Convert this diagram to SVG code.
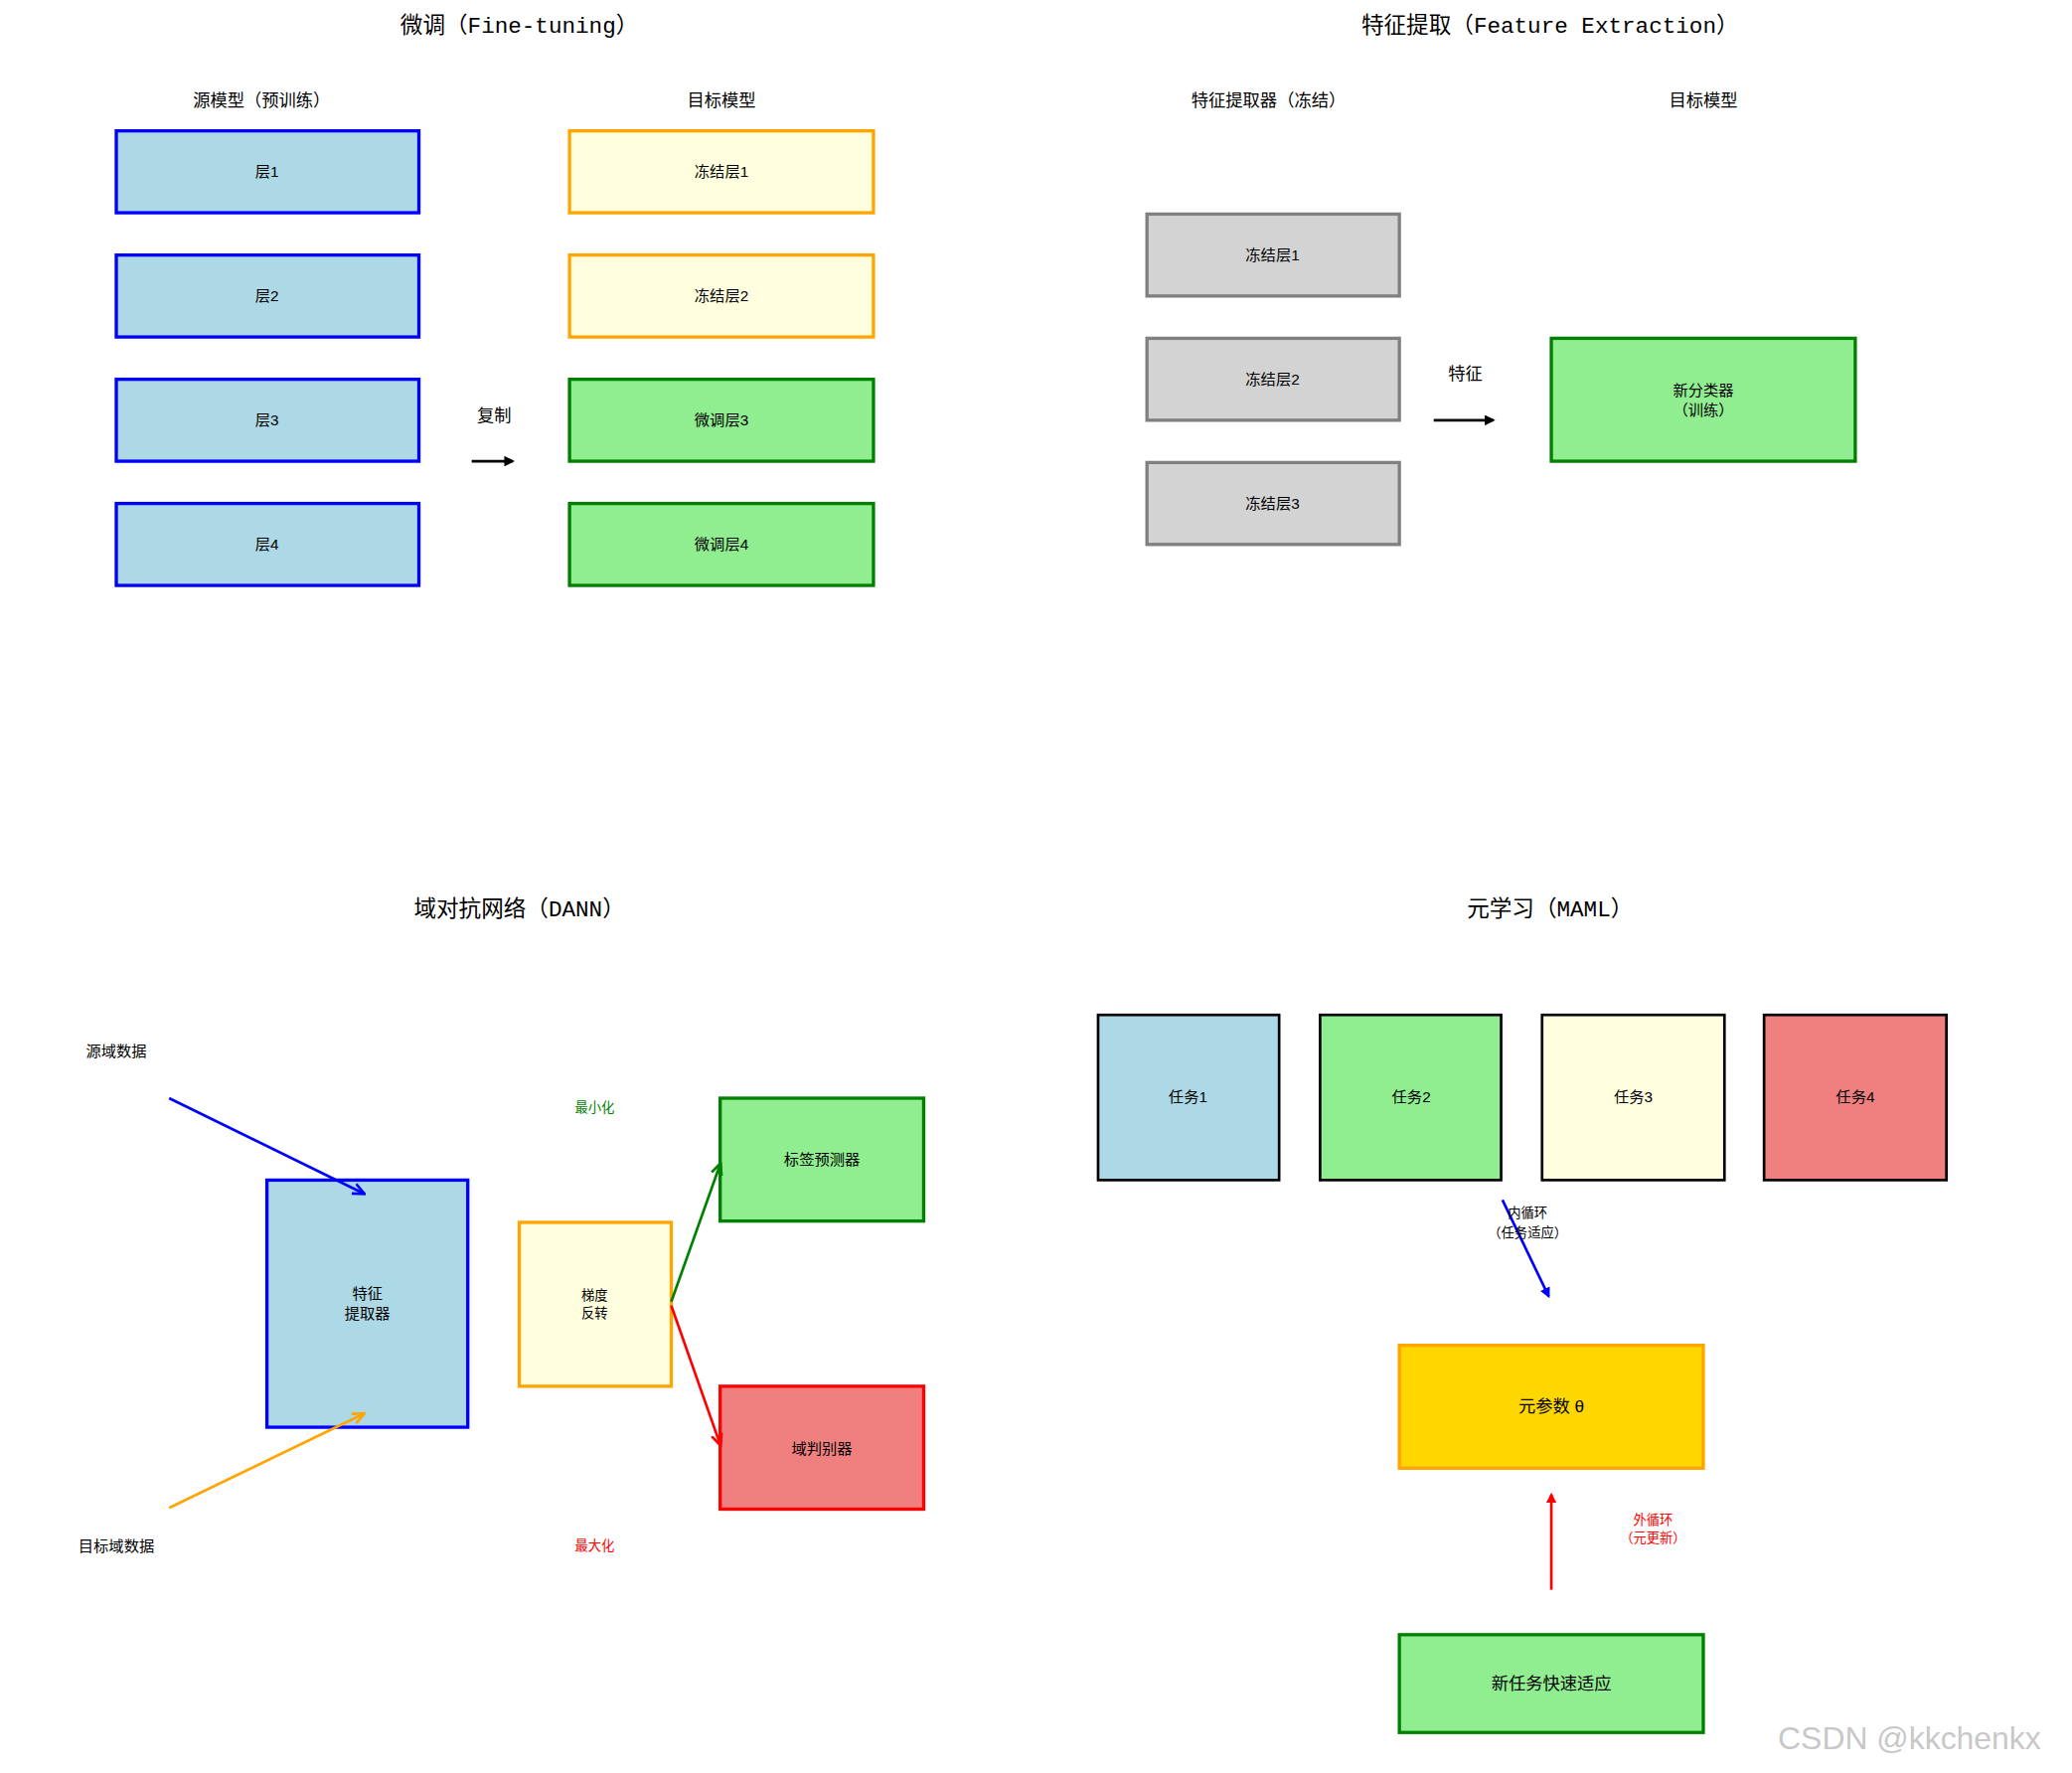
<svg xmlns="http://www.w3.org/2000/svg" width="2085" height="1784" viewBox="0 0 2085 1784">
<defs>
<style>
text{font-family:"Liberation Sans","Noto Sans CJK SC",sans-serif;text-anchor:middle;dominant-baseline:central;fill:#000}
.t{font-size:17px}
.h{font-size:13px}
.b{font-size:11.5px}
.s{font-size:10px}
rect{stroke-width:2.5}
.blue{fill:#add8e6;stroke:#0000ff}
.fro{fill:#ffffe0;stroke:#ffa500}
.grn{fill:#90ee90;stroke:#008000}
.gry{fill:#d3d3d3;stroke:#808080}
.task{stroke:#000;stroke-width:2}
line{stroke-width:2}
</style>
<marker id="ak" viewBox="0 0 10 10" refX="8" refY="5" markerWidth="4" markerHeight="4" orient="auto"><path d="M0,0L10,5L0,10z" fill="#000"/></marker>
<marker id="ab" viewBox="0 0 10 10" refX="8" refY="5" markerWidth="5" markerHeight="5" orient="auto"><path d="M0,1L9,5L0,9" fill="none" stroke="#00f" stroke-width="2"/></marker>
<marker id="ao" viewBox="0 0 10 10" refX="8" refY="5" markerWidth="5" markerHeight="5" orient="auto"><path d="M0,1L9,5L0,9" fill="none" stroke="#ffa500" stroke-width="2"/></marker>
<marker id="ag" viewBox="0 0 10 10" refX="8" refY="5" markerWidth="5" markerHeight="5" orient="auto"><path d="M0,1L9,5L0,9" fill="none" stroke="#008000" stroke-width="2"/></marker>
<marker id="ar" viewBox="0 0 10 10" refX="8" refY="5" markerWidth="5" markerHeight="5" orient="auto"><path d="M0,1L9,5L0,9" fill="none" stroke="#f00" stroke-width="2"/></marker>
<marker id="ab2" viewBox="0 0 10 10" refX="8" refY="5" markerWidth="4" markerHeight="4" orient="auto"><path d="M0,0L10,5L0,10z" fill="#00f"/></marker>
<marker id="ar2" viewBox="0 0 10 10" refX="8" refY="5" markerWidth="4" markerHeight="4" orient="auto"><path d="M0,0L10,5L0,10z" fill="#f00"/></marker>
</defs>
<rect width="2085" height="1784" fill="#fff" stroke="none"/>
<g transform="scale(1.3297)">
<g id="titles">
<text class="t" x="393" y="20" style="font-family:'Liberation Mono','Noto Sans CJK SC',monospace">微调（Fine-tuning）</text>
<text class="t" x="1173" y="20" style="font-family:'Liberation Mono','Noto Sans CJK SC',monospace">特征提取（Feature Extraction）</text>
<text class="t" x="393" y="689" style="font-family:'Liberation Mono','Noto Sans CJK SC',monospace">域对抗网络（DANN）</text>
<text class="t" x="1173" y="689" style="font-family:'Liberation Mono','Noto Sans CJK SC',monospace">元学习（MAML）</text>
<text class="h" x="198" y="76">源模型（预训练）</text>
<text class="h" x="546" y="76">目标模型</text>
<text class="h" x="960" y="76">特征提取器（冻结）</text>
<text class="h" x="1289" y="76">目标模型</text>
</g>
<g id="ft-src">
<g id="src1"><rect class="blue" x="88" y="99" width="229" height="62"/><text class="b" x="202" y="130">层1</text></g>
<g id="src2"><rect class="blue" x="88" y="193" width="229" height="62"/><text class="b" x="202" y="224">层2</text></g>
<g id="src3"><rect class="blue" x="88" y="287" width="229" height="62"/><text class="b" x="202" y="318">层3</text></g>
<g id="src4"><rect class="blue" x="88" y="381" width="229" height="62"/><text class="b" x="202" y="412">层4</text></g>
</g>
<g id="ft-tgt">
<g id="tgt1"><rect class="fro" x="431" y="99" width="230" height="62"/><text class="b" x="546" y="130">冻结层1</text></g>
<g id="tgt2"><rect class="fro" x="431" y="193" width="230" height="62"/><text class="b" x="546" y="224">冻结层2</text></g>
<g id="tgt3"><rect class="grn" x="431" y="287" width="230" height="62"/><text class="b" x="546" y="318">微调层3</text></g>
<g id="tgt4"><rect class="grn" x="431" y="381" width="230" height="62"/><text class="b" x="546" y="412">微调层4</text></g>
</g>
<g id="fe">
<g id="fz1"><rect class="gry" x="868" y="162" width="191" height="62"/><text class="b" x="963" y="193">冻结层1</text></g>
<g id="fz2"><rect class="gry" x="868" y="256" width="191" height="62"/><text class="b" x="963" y="287">冻结层2</text></g>
<g id="fz3"><rect class="gry" x="868" y="350" width="191" height="62"/><text class="b" x="963" y="381">冻结层3</text></g>
<g id="newcls"><rect class="grn" x="1174" y="256" width="230" height="93"/><text class="b" x="1289" y="295">新分类器</text><text class="b" x="1289" y="310">（训练）</text></g>
</g>
<g id="dann">
<g id="featext"><rect class="blue" x="202" y="893" width="152" height="187"/><text class="b" x="278" y="979">特征</text><text class="b" x="278" y="994">提取器</text></g>
<g id="grl"><rect class="fro" x="393" y="925" width="115" height="124"/><text class="s" x="450" y="980">梯度</text><text class="s" x="450" y="994">反转</text></g>
<g id="labelpred"><rect class="grn" x="545" y="831" width="154" height="93"/><text class="b" x="622" y="877">标签预测器</text></g>
<g id="domdisc"><rect style="fill:#f08080;stroke:#f00" x="545" y="1049" width="154" height="93"/><text class="b" x="622" y="1096">域判别器</text></g>
<text class="b" x="88" y="795">源域数据</text>
<text class="b" x="88" y="1170">目标域数据</text>
<text class="s" x="450" y="838" style="fill:#008000">最小化</text>
<text class="s" x="450" y="1170" style="fill:#f00">最大化</text>
</g>
<g id="maml">
<g id="task1"><rect class="task" fill="#add8e6" x="831" y="768" width="137" height="125"/><text class="b" x="899" y="830">任务1</text></g>
<g id="task2"><rect class="task" fill="#90ee90" x="999" y="768" width="137" height="125"/><text class="b" x="1068" y="830">任务2</text></g>
<g id="task3"><rect class="task" fill="#ffffe0" x="1167" y="768" width="138" height="125"/><text class="b" x="1236" y="830">任务3</text></g>
<g id="task4"><rect class="task" fill="#f08080" x="1335" y="768" width="138" height="125"/><text class="b" x="1404" y="830">任务4</text></g>
<g id="meta"><rect style="fill:#ffd700;stroke:#ffa500" x="1059" y="1018" width="230" height="93"/><text class="h" x="1174" y="1064">元参数 θ</text></g>
<g id="newtask"><rect class="grn" x="1059" y="1237" width="230" height="74"/><text class="h" x="1174" y="1274">新任务快速适应</text></g>
</g>
<g id="connectors">
<line x1="357" y1="349" x2="388" y2="349" stroke="#000" marker-end="url(#ak)"/>
<line x1="1085" y1="318" x2="1130" y2="318" stroke="#000" marker-end="url(#ak)"/>
<line x1="128" y1="831" x2="275" y2="903" stroke="#00f" stroke-width="1.5" marker-end="url(#ab)"/>
<line x1="128" y1="1141" x2="275" y2="1070" stroke="#ffa500" stroke-width="1.5" marker-end="url(#ao)"/>
<line x1="508" y1="985" x2="545" y2="881" stroke="#008000" stroke-width="1.5" marker-end="url(#ag)"/>
<line x1="508" y1="988" x2="545" y2="1093" stroke="#f00" stroke-width="1.5" marker-end="url(#ar)"/>
<line x1="1137" y1="908" x2="1172" y2="981" stroke="#00f" stroke-width="2.5" marker-end="url(#ab2)"/>
<line x1="1174" y1="1203" x2="1174" y2="1131" stroke="#f00" stroke-width="2.5" marker-end="url(#ar2)"/>
</g>
<g id="labels">
<text class="h" x="374" y="314">复制</text>
<text class="h" x="1109" y="283">特征</text>
<text class="s" x="1156" y="918">内循环</text>
<text class="s" x="1156" y="933">（任务适应）</text>
<text class="s" x="1251" y="1150" style="fill:#f00">外循环</text>
<text class="s" x="1251" y="1164" style="fill:#f00">（元更新）</text>
</g>
<text x="1445" y="1315" style="font-size:24px;fill:#c8c8c8">CSDN @kkchenkx</text>
</g>
</svg>
